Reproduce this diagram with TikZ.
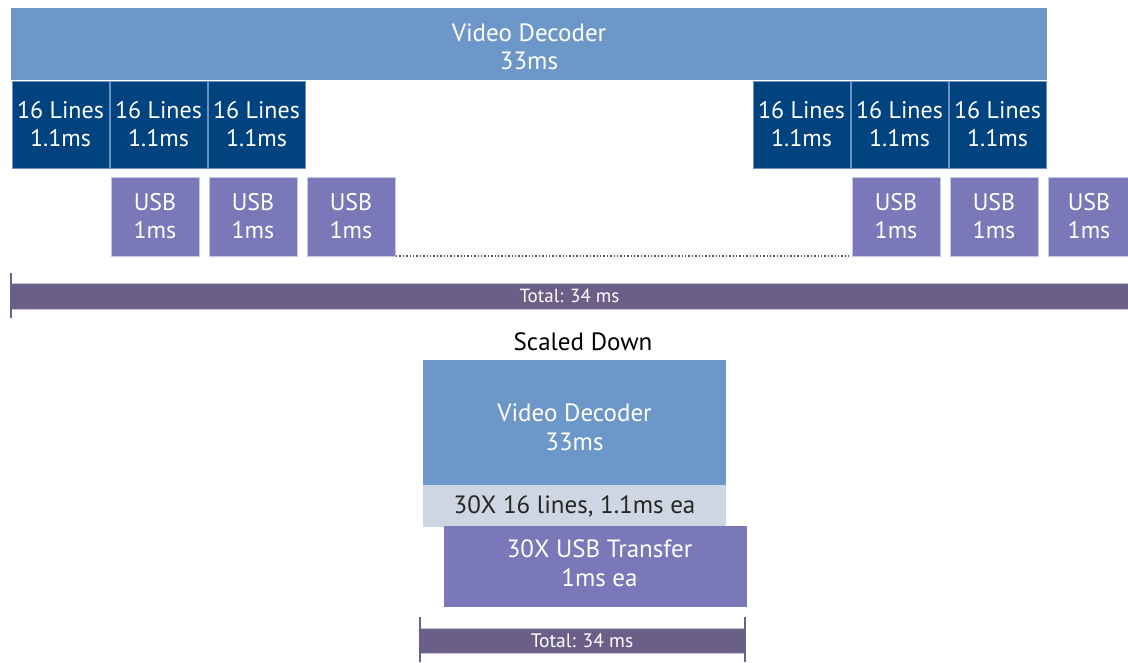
\documentclass[tikz,border=0pt]{standalone}
\usepackage{fontspec}
\setmainfont{PT Sans}
\begin{document}
\begin{tikzpicture}[x=1pt,y=-1pt,
  cell/.style={inner sep=0pt,outer sep=0pt,anchor=north west,align=center,text=white},
  decoder/.style={cell,fill=decblue},
  label text/.style={inner sep=0pt,align=center,text=white,font=\fontsize{25}{29}\selectfont},
  lines/.style={cell,fill=lineblue,draw=edgeblue,line width=0.8pt,
    minimum width=97pt,minimum height=87pt,font=\fontsize{24}{28}\selectfont},
  usb/.style={cell,fill=usbviolet,draw=usbedge,line width=0.6pt,
    minimum width=88pt,minimum height=79pt,font=\fontsize{24}{28}\selectfont},
  totalbar/.style={cell,fill=totalgrey,draw=none,font=\fontsize{19}{21}\selectfont},
  barrim/.style={draw=rimlav,line width=0.8pt},
  tick/.style={draw=totalgrey,line width=1.4pt},
  gap/.style={draw=gapgrey,line width=1.4pt,dotted}]
\definecolor{decblue}{HTML}{6D97C8}
\definecolor{lineblue}{HTML}{00437F}
\definecolor{edgeblue}{HTML}{6A90C4}
\definecolor{usbviolet}{HTML}{7B78B9}
\definecolor{usbedge}{HTML}{C9C7E2}
\definecolor{totalgrey}{HTML}{6A6087}
\definecolor{rimlav}{HTML}{C8C3DB}
\definecolor{gapgrey}{HTML}{555560}
\definecolor{linesgrey}{HTML}{CED6E3}
\useasboundingbox (0,0) rectangle (1128,662);

% full-length timeline
\node[decoder,minimum width=1036pt,minimum height=72pt] (dec) at (11,8) {};
\node[label text,font=\fontsize{25}{28}\selectfont] (dectxt) at ([yshift=-3pt]dec.center) {Video Decoder\\33ms};

\node[lines] (l1) at (12,81) {16 Lines\\1.1ms};
\node[lines] (l2) at (110,81) {16 Lines\\1.1ms};
\node[lines] (l3) at (208,81) {16 Lines\\1.1ms};
\node[lines] (l4) at (753,81) {16 Lines\\1.1ms};
\node[lines] (l5) at (851,81) {16 Lines\\1.1ms};
\node[lines] (l6) at (949,81) {16 Lines\\1.1ms};

\node[usb] (u1) at (111,177) {USB\\1ms};
\node[usb] (u2) at (209,177) {USB\\1ms};
\node[usb] (u3) at (307,177) {USB\\1ms};
\node[usb] (u4) at (852,177) {USB\\1ms};
\node[usb] (u5) at (950,177) {USB\\1ms};
\node[usb,minimum width=82pt] (u6) at (1048,177) {USB\\1ms};

\draw[gap] ([xshift=1pt]u3.south east) -- ([xshift=-3pt]u4.south west);

% total duration bar
\node[totalbar,minimum width=1117pt,minimum height=26pt] (tot) at (11,283) {Total: 34 ms};
\draw[barrim] (tot.north west) -- (tot.north east);
\draw[barrim] (tot.south west) -- (tot.south east);
\coordinate (t1a) at (11,273);
\coordinate (t1b) at (11,318);
\draw[tick] (t1a) -- (t1b);

% compact view
\node[font=\fontsize{25}{28}\selectfont] (sd) at (583,342) {Scaled Down};
\node[decoder,minimum width=303pt,minimum height=125pt] (dec2) at (423,360) {};
\node[label text] (dec2txt) at ([yshift=-5pt]dec2.center) {Video Decoder\\33ms};
\node[cell,fill=linesgrey,text=black!85,minimum width=303pt,minimum height=42pt,
  font=\fontsize{25}{28}\selectfont] (lin2) at (423,485) {30X 16 lines, 1.1ms ea};
\node[cell,fill=usbviolet,minimum width=303pt,minimum height=81pt] (usb2) at (444,526) {};
\node[label text] (usb2txt) at ([xshift=4pt,yshift=3pt]usb2.center) {30X USB Transfer\\1ms ea};

\node[totalbar,minimum width=326pt,minimum height=25pt,font=\fontsize{19.5}{21}\selectfont] (tot2) at (419,628) {Total: 34 ms};
\draw[barrim] (tot2.north west) -- (tot2.north east);
\draw[barrim] (tot2.south west) -- (tot2.south east);
\coordinate (t2a) at (420,617);
\coordinate (t2b) at (420,662);
\coordinate (t3a) at (745,617);
\coordinate (t3b) at (745,662);
\draw[tick] (t2a) -- (t2b);
\draw[tick] (t3a) -- (t3b);
\end{tikzpicture}
\end{document}
